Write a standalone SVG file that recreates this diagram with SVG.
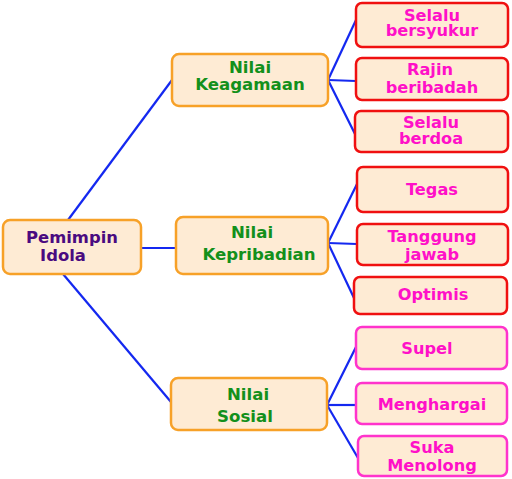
<svg xmlns="http://www.w3.org/2000/svg" width="512" height="479" viewBox="0 0 512 479">
<style>
.box{fill:#feebd4;stroke-width:2.5}
.org{stroke:#f7a128}
.red{stroke:#f01010}
.pink{stroke:#ff33cc}
text{font-family:"DejaVu Sans",Verdana,sans-serif;font-weight:bold;font-size:16px;text-anchor:middle}
.root{fill:#4a0a80;font-size:16.4px}
.mid{fill:#13901b;font-size:16.6px}
.leaf{fill:#ff10c8;font-size:16.2px}
.conn{stroke:#1428f0;stroke-width:2.2;fill:none}
</style>
<rect width="512" height="479" fill="#ffffff"/>
<g id="connectors" class="conn">
<line x1="68" y1="220" x2="172" y2="80"/>
<line x1="141" y1="248" x2="176" y2="248"/>
<line x1="63" y1="274" x2="171" y2="402"/>
<line x1="328" y1="80" x2="356" y2="20"/>
<line x1="328" y1="80" x2="356" y2="81"/>
<line x1="328" y1="80" x2="355" y2="134"/>
<line x1="328" y1="243" x2="357" y2="184"/>
<line x1="328" y1="243" x2="357" y2="244"/>
<line x1="328" y1="243" x2="354" y2="298"/>
<line x1="327" y1="405" x2="356" y2="347"/>
<line x1="327" y1="405" x2="356" y2="405"/>
<line x1="327" y1="405" x2="358" y2="458"/>
</g>
<g id="root">
<rect class="box org" x="3" y="220" width="138" height="54" rx="7"/>
<text class="root" x="72" y="243">Pemimpin</text>
<text class="root" x="63" y="261">Idola</text>
</g>
<g id="keagamaan">
<rect class="box org" x="172" y="54" width="156" height="52" rx="7"/>
<text class="mid" x="250" y="73">Nilai</text>
<text class="mid" x="250" y="90">Keagamaan</text>
</g>
<g id="kepribadian">
<rect class="box org" x="176" y="217" width="152" height="57" rx="7"/>
<text class="mid" x="252" y="238">Nilai</text>
<text class="mid" x="259" y="260">Kepribadian</text>
</g>
<g id="sosial">
<rect class="box org" x="171" y="378" width="156" height="52" rx="7"/>
<text class="mid" x="248" y="400">Nilai</text>
<text class="mid" x="245" y="422">Sosial</text>
</g>
<g id="selalu-bersyukur">
<rect class="box red" x="356" y="3" width="152" height="44" rx="6"/>
<text class="leaf" x="432" y="21">Selalu</text>
<text class="leaf" x="432" y="36">bersyukur</text>
</g>
<g id="rajin-beribadah">
<rect class="box red" x="356" y="58" width="152" height="42" rx="6"/>
<text class="leaf" x="430" y="75">Rajin</text>
<text class="leaf" x="432" y="93">beribadah</text>
</g>
<g id="selalu-berdoa">
<rect class="box red" x="355" y="111" width="153" height="41" rx="6"/>
<text class="leaf" x="431" y="128">Selalu</text>
<text class="leaf" x="431" y="144">berdoa</text>
</g>
<g id="tegas">
<rect class="box red" x="357" y="167" width="151" height="45" rx="6"/>
<text class="leaf" x="432" y="195">Tegas</text>
</g>
<g id="tanggung-jawab">
<rect class="box red" x="357" y="224" width="151" height="41" rx="6"/>
<text class="leaf" x="432" y="242">Tanggung</text>
<text class="leaf" x="432" y="260">jawab</text>
</g>
<g id="optimis">
<rect class="box red" x="354" y="277" width="153" height="37" rx="6"/>
<text class="leaf" x="433" y="300">Optimis</text>
</g>
<g id="supel">
<rect class="box pink" x="356" y="327" width="151" height="42" rx="6"/>
<text class="leaf" x="427" y="354">Supel</text>
</g>
<g id="menghargai">
<rect class="box pink" x="356" y="383" width="151" height="41" rx="6"/>
<text class="leaf" x="432" y="410">Menghargai</text>
</g>
<g id="suka-menolong">
<rect class="box pink" x="358" y="436" width="149" height="40" rx="6"/>
<text class="leaf" x="432" y="453">Suka</text>
<text class="leaf" x="432" y="471">Menolong</text>
</g>
</svg>
